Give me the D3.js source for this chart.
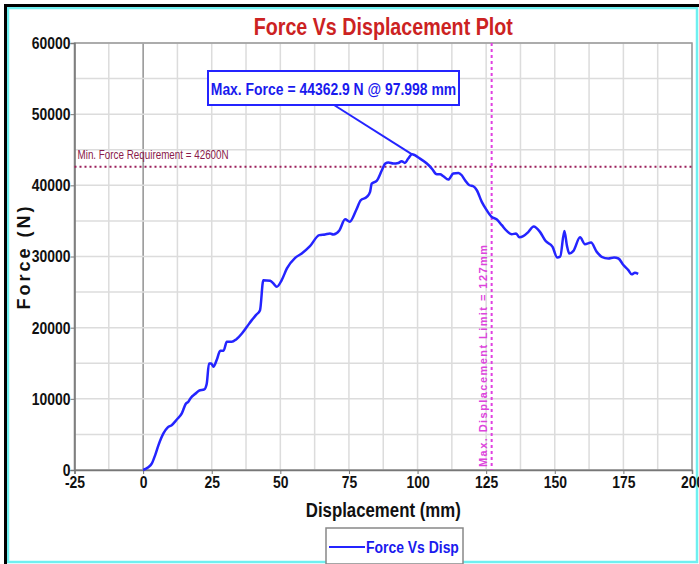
<!DOCTYPE html>
<html>
<head>
<meta charset="utf-8">
<script src="https://cdn.jsdelivr.net/npm/d3@7"></script>
<style>
  html, body { margin: 0; padding: 0; background: #fff; }
  svg { display: block; }
</style>
</head>
<body>
<svg id="chart" width="699" height="564"></svg>
<script>
// ---- DATA ----
const displacement = [0, 1.9, 3.2, 4.4, 5.6, 7.4, 8.9, 10.4, 12.3, 14.1, 15.5, 16.5, 17.5, 18.9, 20.4, 22.3, 23.2, 24.0, 24.8, 25.6, 26.8, 28.1, 29.3, 30.5, 32.3, 33.9, 36.0, 37.8, 39.6, 41.2, 42.6, 43.8, 46.3, 47.5, 48.7, 50.5, 52.4, 55.4, 57.8, 60.8, 64.2, 66.3, 68.1, 69.3, 71.5, 73.6, 75.3, 77.6, 79.3, 81.5, 82.7, 83.3, 85.1, 87.0, 88.2, 89.4, 91.2, 93.0, 94.2, 95.4, 96.6, 98.0, 100.9, 103.4, 105.2, 107.0, 108.2, 109.4, 111.2, 113.0, 114.9, 116.1, 117.3, 118.9, 120.3, 121.6, 123.4, 125.2, 127.0, 128.9, 130.7, 132.5, 134.3, 135.9, 137.1, 138.5, 140.4, 142.3, 144.6, 146.6, 149.2, 150.9, 152.0, 153.5, 154.4, 155.3, 156.8, 159.2, 161.0, 163.2, 165.3, 167.1, 169.5, 171.6, 173.2, 175.0, 176.8, 178.0, 179.2, 180.4];
const force = [0, 380, 940, 2100, 3500, 5150, 5950, 6300, 7100, 7950, 9270, 9600, 10200, 10670, 11140, 11330, 12170, 14980, 14980, 14500, 15440, 16750, 16750, 18010, 18010, 18350, 19190, 20120, 21060, 21800, 22460, 26680, 26580, 26210, 25740, 26680, 28320, 29800, 30420, 31450, 33000, 33090, 33230, 33090, 33650, 35220, 34900, 36500, 37900, 38370, 39080, 40250, 40620, 42120, 43060, 43200, 43060, 43150, 43380, 43150, 43760, 44363, 43760, 43060, 42360, 41560, 41560, 41280, 40810, 41660, 41750, 41420, 40720, 40010, 39870, 39310, 37670, 36500, 35560, 35200, 34400, 33600, 33130, 33230, 32700, 32850, 33460, 34200, 33460, 32200, 31350, 29860, 30000, 33600, 31590, 30420, 30790, 32700, 31730, 31950, 30650, 29950, 29720, 29860, 29720, 28800, 28080, 27500, 27700, 27550];
const xTicks = [-25, 0, 25, 50, 75, 100, 125, 150, 175, 200];
const yTicks = [0, 10000, 20000, 30000, 40000, 50000, 60000];
const xGrid = d3.range(-25, 200.01, 12.5);
const yGrid = d3.range(0, 60000.1, 5000);
const maxForce = 44362.9;
const maxForceDisp = 97.998;
const minForceReq = 42600;
const maxDispLimit = 127;
const titleText = "Force Vs Displacement Plot";
const xLabel = "Displacement (mm)";
const yLabel = "Force (N)";
const seriesName = "Force Vs Disp";

// ---- LAYOUT ----
const svg = d3.select("#chart");
const L = 74.5, R = 692, T = 43, B = 470;
const x = d3.scaleLinear().domain([-25, 200]).range([L, R]);
const y = d3.scaleLinear().domain([0, 60000]).range([B, T]);
const font = "'Liberation Sans', Arial, sans-serif";
const SX = 0.82; // horizontal condensation to imitate a narrow face

function narrowText(parent, px, py, str, size, opts = {}) {
  return parent.append("text")
    .attr("transform", `translate(${px},${py}) scale(${opts.sx || SX},1)`)
    .attr("text-anchor", opts.anchor || "start")
    .attr("font-family", font)
    .attr("font-weight", opts.weight || "bold")
    .attr("font-size", size)
    .attr("fill", opts.fill || "#111")
    .text(str);
}

// outer frame
svg.append("rect").attr("x", 8).attr("y", 8).attr("width", 689).attr("height", 554)
  .attr("fill", "none").attr("stroke", "#6ff0f0").attr("stroke-width", 2.5);
svg.append("line").attr("x1", 4).attr("x2", 699).attr("y1", 5.5).attr("y2", 5.5)
  .attr("stroke", "#000").attr("stroke-width", 3);
svg.append("line").attr("x1", 5.5).attr("x2", 5.5).attr("y1", 4).attr("y2", 564)
  .attr("stroke", "#000").attr("stroke-width", 3);

// grid
const g = svg.append("g");
g.selectAll(".vg").data(xGrid).join("line")
  .attr("x1", d => x(d)).attr("x2", d => x(d)).attr("y1", T).attr("y2", B)
  .attr("stroke", d => d === 0 ? "#777" : "#dcdcdc").attr("stroke-width", d => d === 0 ? 1.2 : 1.5);
g.selectAll(".hg").data(yGrid).join("line")
  .attr("x1", L).attr("x2", R).attr("y1", d => y(d)).attr("y2", d => y(d))
  .attr("stroke", "#dcdcdc").attr("stroke-width", 1.5);

// plot frame
svg.append("rect").attr("x", L).attr("y", T).attr("width", R - L).attr("height", B - T)
  .attr("fill", "none").attr("stroke", "#999").attr("stroke-width", 1.5);

// axes
const xAxis = svg.append("g").attr("transform", `translate(0,${B})`)
  .call(d3.axisBottom(x).tickValues(xTicks).tickSize(4).tickPadding(2).tickFormat(d => String(d)));
xAxis.select(".domain").attr("stroke", "#777").attr("stroke-width", 1.5);
xAxis.selectAll(".tick line").attr("stroke", "#777");
xAxis.selectAll("text").attr("font-family", font).attr("font-weight", "bold")
  .attr("font-size", 17).attr("fill", "#111").attr("transform", `scale(${SX},1)`);

const yAxis = svg.append("g").attr("transform", `translate(${L},0)`)
  .call(d3.axisLeft(y).tickValues(yTicks).tickSize(4).tickPadding(1).tickFormat(d => String(d)));
yAxis.select(".domain").attr("stroke", "#777").attr("stroke-width", 1.5);
yAxis.selectAll(".tick line").attr("stroke", "#777");
yAxis.selectAll("text").attr("font-family", font).attr("font-weight", "bold")
  .attr("font-size", 17).attr("fill", "#111").attr("transform", `scale(${SX},1)`);

// title & labels
narrowText(svg, (L + R) / 2, 35, titleText, 24, { anchor: "middle", fill: "#cc2222" });
narrowText(svg, (L + R) / 2, 517, xLabel, 20.5, { anchor: "middle" });
svg.append("text").attr("transform", `translate(30,${(T + B) / 2}) rotate(-90)`)
  .attr("text-anchor", "middle").attr("font-family", font).attr("font-weight", "bold")
  .attr("font-size", 18).attr("letter-spacing", 3).attr("fill", "#111").text(yLabel);

// reference lines
svg.append("line").attr("x1", L).attr("x2", R).attr("y1", y(minForceReq)).attr("y2", y(minForceReq))
  .attr("stroke", "#9a1f5a").attr("stroke-width", 2).attr("stroke-dasharray", "2,3");
narrowText(svg, L + 3, y(minForceReq) - 8, "Min. Force Requirement = " + minForceReq + "N", 12,
  { weight: "normal", fill: "#8a1a4a" });

svg.append("line").attr("x1", x(maxDispLimit)).attr("x2", x(maxDispLimit)).attr("y1", T).attr("y2", B)
  .attr("stroke", "#e040e0").attr("stroke-width", 2).attr("stroke-dasharray", "3,3");
svg.append("text").attr("transform", `translate(${x(maxDispLimit) - 5},467) rotate(-90)`)
  .attr("text-anchor", "start").attr("font-family", font).attr("font-weight", "bold")
  .attr("font-size", 11).attr("fill", "#dd44dd")
  .attr("textLength", 222).attr("lengthAdjust", "spacing")
  .text("Max. Displacement Limit = " + maxDispLimit + "mm");

// data line
const pts = displacement.map((d, i) => [d, force[i]]);
const line = d3.line().x(d => x(d[0])).y(d => y(d[1])).curve(d3.curveMonotoneX);
svg.append("path").attr("d", line(pts)).attr("fill", "none")
  .attr("stroke", "#2424ff").attr("stroke-width", 2.5).attr("stroke-linejoin", "round");

// annotation
const boxX = 208, boxY = 71, boxW = 251, boxH = 34;
svg.append("line").attr("x1", boxX + 126).attr("y1", boxY + boxH)
  .attr("x2", x(maxForceDisp)).attr("y2", y(maxForce))
  .attr("stroke", "#2424ff").attr("stroke-width", 2);
svg.append("rect").attr("x", boxX).attr("y", boxY).attr("width", boxW).attr("height", boxH)
  .attr("fill", "#fff").attr("stroke", "#2424ff").attr("stroke-width", 2);
narrowText(svg, boxX + boxW / 2, boxY + 24, `Max. Force = ${maxForce} N @ ${maxForceDisp} mm`, 17,
  { anchor: "middle", fill: "#1a1aee" });

// legend
const lg = svg.append("g");
lg.append("rect").attr("x", 326).attr("y", 528).attr("width", 137).attr("height", 36)
  .attr("fill", "#fff").attr("stroke", "#888").attr("stroke-width", 1.5);
lg.append("line").attr("x1", 329).attr("x2", 365).attr("y1", 547).attr("y2", 547)
  .attr("stroke", "#2424ff").attr("stroke-width", 2);
narrowText(lg, 366, 553, seriesName, 17, { fill: "#1a1aee" });
</script>
</body>
</html>
